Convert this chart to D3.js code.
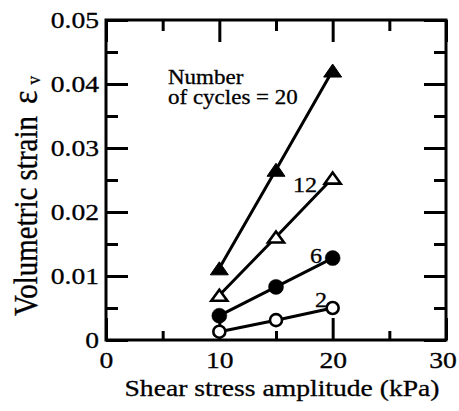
<!DOCTYPE html>
<html>
<head>
<meta charset="utf-8">
<script src="https://cdn.jsdelivr.net/npm/d3@7"></script>
<style>
  html, body { margin: 0; padding: 0; background: #fff; }
  svg { display: block; }
  text { font-family: "Liberation Serif", "Times New Roman", serif; fill: #000; }
</style>
</head>
<body>
<svg id="chart" width="459" height="411"></svg>
<script>
// ---- data ----
const shear = [10, 15, 20];                       // kPa
const strain20 = [0.0112, 0.0266, 0.0421];        // filled triangles
const strain12 = [0.0070, 0.0161, 0.0253];        // open triangles
const strain6  = [0.0038, 0.0083, 0.0128];        // filled circles
const strain2  = [0.0013, 0.0031, 0.0050];        // open circles
const xTicks = [0, 10, 20, 30];
const xMinor = [5, 15, 25];
const yTicks = [0, 0.01, 0.02, 0.03, 0.04, 0.05];
const yMinor = [0.005, 0.015, 0.025, 0.035, 0.045];
const seriesNames = ["20", "12", "6", "2"];

const SX = 1.15; // horizontal stretch of the lettering in the reference

const svg = d3.select("#chart");
const x = d3.scaleLinear().domain([0, 30]).range([106, 446]);
const y = d3.scaleLinear().domain([0, 0.05]).range([340, 20]);

const axW = 3;

function styleAxis(g) {
  g.select(".domain").remove();
  g.selectAll(".tick line").attr("stroke", "#000").attr("stroke-width", axW);
}

// bottom
svg.append("g").attr("transform", `translate(0,${y(0)})`)
  .call(d3.axisBottom(x).tickValues(xTicks).tickSize(-22).tickPadding(11).tickFormat(d3.format("d")))
  .call(styleAxis)
  .call(g => g.selectAll(".tick text").attr("font-size", 24).attr("transform", `scale(${SX},1)`)
    .attr("dx", d => d === 30 ? -3 : 0)
    .style("font-family", "Liberation Serif").attr("stroke", "#000").attr("stroke-width", 0.3));
svg.append("g").attr("transform", `translate(0,${y(0)})`)
  .call(d3.axisBottom(x).tickValues(xMinor).tickSize(-9).tickFormat(""))
  .call(styleAxis);
// top
svg.append("g").attr("transform", `translate(0,${y(0.05)})`)
  .call(d3.axisTop(x).tickValues(xTicks).tickSize(-22).tickFormat(""))
  .call(styleAxis);
svg.append("g").attr("transform", `translate(0,${y(0.05)})`)
  .call(d3.axisTop(x).tickValues(xMinor).tickSize(-11).tickFormat(""))
  .call(styleAxis);
// left
svg.append("g").attr("transform", `translate(${x(0)},0)`)
  .call(d3.axisLeft(y).tickValues(yTicks).tickSize(-22).tickPadding(6)
    .tickFormat(d => d === 0 ? "0" : d3.format(".2f")(d)))
  .call(styleAxis)
  .call(g => g.selectAll(".tick text").attr("font-size", 24).attr("transform", `scale(${SX},1)`)
    .style("font-family", "Liberation Serif").attr("stroke", "#000").attr("stroke-width", 0.3));
svg.append("g").attr("transform", `translate(${x(0)},0)`)
  .call(d3.axisLeft(y).tickValues(yMinor).tickSize(-12).tickFormat(""))
  .call(styleAxis);
// right
svg.append("g").attr("transform", `translate(${x(30)},0)`)
  .call(d3.axisRight(y).tickValues(yTicks).tickSize(-22).tickFormat(""))
  .call(styleAxis);
svg.append("g").attr("transform", `translate(${x(30)},0)`)
  .call(d3.axisRight(y).tickValues(yMinor).tickSize(-12).tickFormat(""))
  .call(styleAxis);

// frame
svg.append("rect")
  .attr("x", x(0)).attr("y", y(0.05))
  .attr("width", x(30) - x(0)).attr("height", y(0) - y(0.05))
  .attr("fill", "none").attr("stroke", "#000").attr("stroke-width", axW);

// series
const series = [
  { name: seriesNames[0], vals: strain20, shape: "tri", filled: true },
  { name: seriesNames[1], vals: strain12, shape: "tri", filled: false },
  { name: seriesNames[2], vals: strain6,  shape: "circ", filled: true },
  { name: seriesNames[3], vals: strain2,  shape: "circ", filled: false },
];

const line = d3.line().x(d => x(d[0])).y(d => y(d[1]));
series.forEach(s => {
  const pts = shear.map((v, i) => [v, s.vals[i]]);
  svg.append("path").datum(pts).attr("d", line)
    .attr("fill", "none").attr("stroke", "#000").attr("stroke-width", 3);
});

series.forEach(s => {
  const pts = shear.map((v, i) => [v, s.vals[i]]);
  const g = svg.append("g");
  pts.forEach(p => {
    const cx = x(p[0]), cy = y(p[1]);
    if (s.shape === "tri") {
      const hw = s.filled ? 9 : 8, hh = s.filled ? 6.5 : 5.5;
      g.append("path")
        .attr("d", `M${cx},${cy - hh}L${cx + hw},${cy + hh}L${cx - hw},${cy + hh}Z`)
        .attr("fill", s.filled ? "#000" : "#fff")
        .attr("stroke", "#000").attr("stroke-width", s.filled ? 1 : 2.6)
        .attr("stroke-linejoin", "miter");
    } else {
      g.append("circle").attr("cx", cx).attr("cy", cy)
        .attr("r", s.filled ? 7.5 : 6)
        .attr("fill", s.filled ? "#000" : "#fff")
        .attr("stroke", "#000").attr("stroke-width", s.filled ? 0.5 : 2.6);
    }
  });
});

// stretched text helper
function label(px, py, str, size, anchor) {
  return svg.append("text")
    .attr("transform", `translate(${px},${py}) scale(${SX},1)`)
    .attr("font-size", size)
    .attr("text-anchor", anchor || "start")
    .attr("stroke", "#000").attr("stroke-width", 0.3)
    .text(str);
}

// annotations
label(168, 84, "Number", 20);
label(168, 104, "of cycles = 20", 20);
label(293, 192, seriesNames[1], 21);
label(310, 263, seriesNames[2], 21);
label(315, 307, seriesNames[3], 21);

// x axis title
label(282, 396, "Shear stress amplitude (kPa)", 24, "middle");

// y axis title
const yt = svg.append("text")
  .attr("transform", `translate(37,316) scale(${SX},1) rotate(-90)`)
  .attr("font-size", 29)
  .attr("stroke", "#000").attr("stroke-width", 0.3);
yt.append("tspan").text("Volumetric strain");
yt.append("tspan").attr("dx", 12).attr("font-size", 32).text("ε");
yt.append("tspan").attr("dx", 6).attr("dy", 3).attr("font-size", 17).text("v");
</script>
</body>
</html>
